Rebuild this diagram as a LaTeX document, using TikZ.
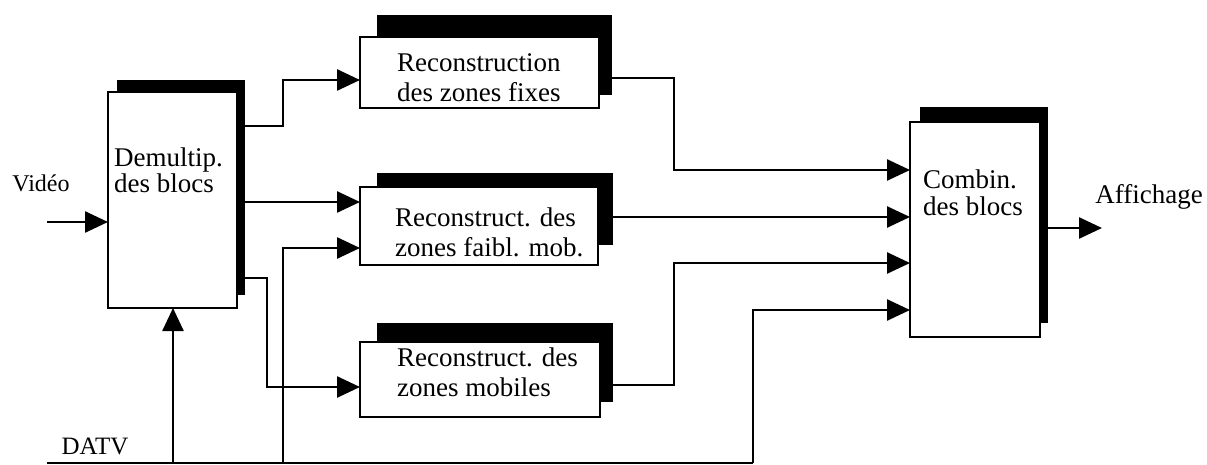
\documentclass[tikz,border=0pt]{standalone}
\usepackage{fontspec}
\setmainfont{Liberation Serif}
\usetikzlibrary{arrows.meta,calc,backgrounds}
\begin{document}
\begin{tikzpicture}[x=1pt,y=-1pt,
  box/.style={draw,line width=2.6pt,fill=white,inner sep=0pt,outer sep=0pt},
  txt/.style={inner sep=0pt,anchor=west,align=left,font=\fontsize{27}{30}\selectfont},
  lab/.style={inner sep=0pt,font=\fontsize{26}{30}\selectfont},
  wire/.style={line width=2.6pt},
  arr/.style={wire,-{Triangle[length=23pt,width=21pt]}},
  shad/.style={fill=black}]
\useasboundingbox (0,0) rectangle (1207,465);

% boxes
\node[box,minimum width=129pt,minimum height=216pt] (demux) at (172.5,200) {};
\node[box,minimum width=239pt,minimum height=71pt] (fixe) at (479.5,72.5) {};
\node[box,minimum width=238pt,minimum height=78pt] (faibl) at (479,226) {};
\node[box,minimum width=240pt,minimum height=75pt] (mobil) at (480,379.5) {};
\node[box,minimum width=130pt,minimum height=215pt] (comb) at (975,229.5) {};

% shadows
\begin{scope}[on background layer]
\fill[shad] ($(demux.south west)+(9,-13)$) rectangle ($(demux.north east)+(8,-12)$);
\fill[shad] ($(fixe.south west)+(17,-13)$) rectangle ($(fixe.north east)+(13,-22)$);
\fill[shad] ($(faibl.south west)+(17,-20)$) rectangle ($(faibl.north east)+(15,-14)$);
\fill[shad] ($(mobil.south west)+(17,-15)$) rectangle ($(mobil.north east)+(13,-19)$);
\fill[shad] ($(comb.south west)+(10,-14)$) rectangle ($(comb.north east)+(8,-15)$);
\end{scope}

% texts inside boxes
\node[txt,font=\fontsize{27}{26}\selectfont] (tdemux) at (114,170) {Demultip.\\des blocs};
\node[txt] (tfixe) at (397,78) {Reconstruction\\des zones fixes};
\node[txt] (tfaibl) at (395,232) {Reconstruct. des\\zones faibl. mob.};
\node[txt] (tmobil) at (397,372) {Reconstruct. des\\zones mobiles};
\node[txt,font=\fontsize{27}{27}\selectfont] (tcomb) at (923,193) {Combin.\\des blocs};

% outside labels
\node[lab,font=\fontsize{24}{28}\selectfont] (video) at (41,183) {Vidéo};
\node[lab,font=\fontsize{25}{28}\selectfont] (datv) at (95,446) {DATV};
\node[lab,font=\fontsize{27}{30}\selectfont] (aff) at (1149,197) {Affichage};

% coordinates
\coordinate (vin) at (47,222);
\coordinate (d0) at (47,463);
\coordinate (d1) at (173,463);
\coordinate (d2) at (283,463);
\coordinate (d3) at (753,463);
\coordinate (aout) at (1102,228);

% connectors
\draw[arr] (vin) -- (demux.west |- vin);
\draw[arr] (demux.east |- 0,126) -| (283,80) -- (fixe.west |- 0,80);
\draw[arr] (demux.east |- 0,202) -- (faibl.west |- 0,202);
\draw[arr] (demux.east |- 0,278) -| (267,387) -- (mobil.west |- 0,387);
\draw[wire] (d0) -- (d3);
\draw[arr] (d3) |- (comb.west |- 0,310);
\draw[arr] (d1) -- (demux.south -| d1);
\draw[arr] (d2) |- (faibl.west |- 0,248);
\draw[arr] (fixe.east |- 0,78) -| (674,170) -- (comb.west |- 0,170);
\draw[arr] (faibl.east |- 0,217) -- (comb.west |- 0,217);
\draw[arr] (mobil.east |- 0,385) -| (674,263) -- (comb.west |- 0,263);
\draw[arr] (comb.east |- aout) -- (aout);
\end{tikzpicture}
\end{document}
